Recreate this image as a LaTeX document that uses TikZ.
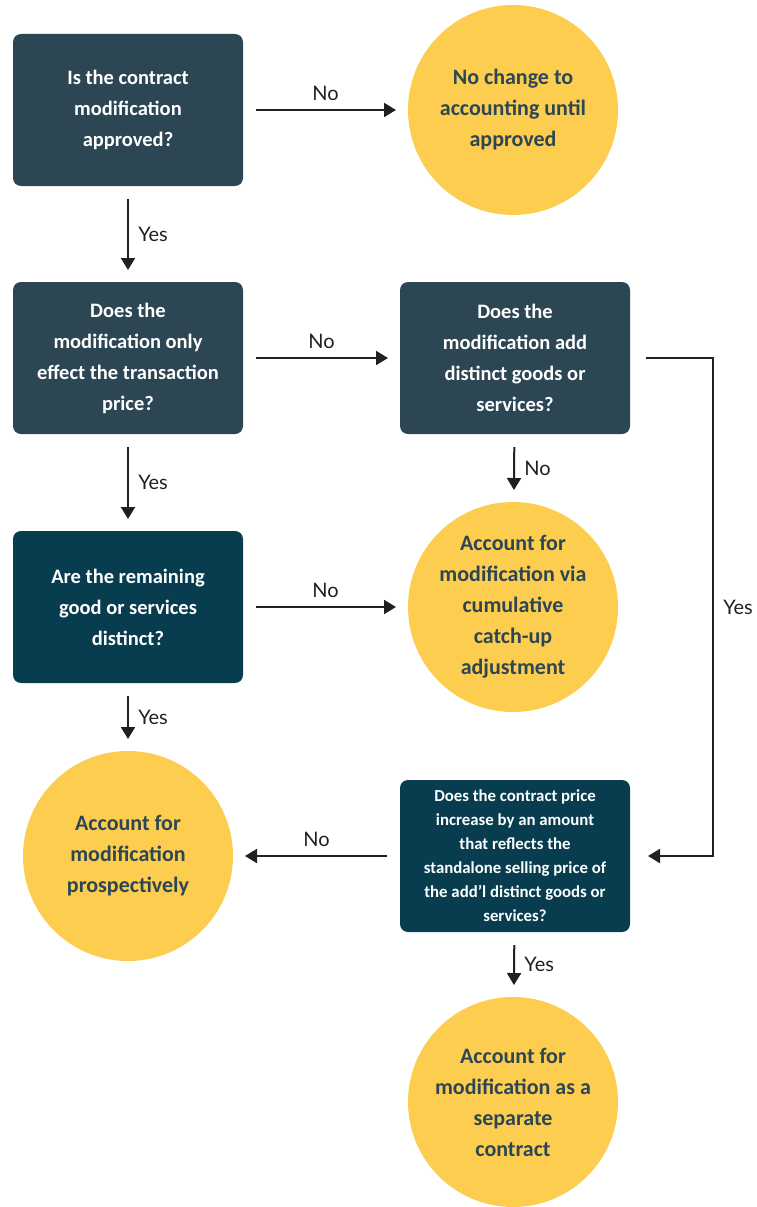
\documentclass[tikz,border=0pt]{standalone}
\usepackage{fontspec}
\setmainfont{Carlito}
\newfontfamily\labelfont{Lato}
\usetikzlibrary{arrows.meta,positioning}
\definecolor{slate}{HTML}{2C4654}
\definecolor{deepteal}{HTML}{083D4F}
\definecolor{sun}{HTML}{FDCD50}
\definecolor{ink}{HTML}{231F20}

\begin{document}
\begin{tikzpicture}[x=1pt,y=-1pt,->,>={Triangle[length=12pt,width=14pt]},draw=ink,line width=2pt,
	shorten >=11pt,shorten <=12pt,
	qbox/.style={rectangle,rounded corners=8pt,fill=slate,text=white,
		minimum width=230pt,minimum height=152pt,align=center,
		font=\bfseries\fontsize{20.5}{31}\selectfont},
	dark/.style={fill=deepteal},
	result/.style={circle,fill=sun,text=slate,minimum size=210pt,inner sep=0pt,
		align=center,font=\bfseries\fontsize{22}{31}\selectfont},
	lbl/.style={text=ink,font=\labelfont\fontsize{20}{22}\selectfont}]
	\useasboundingbox (0,0) rectangle (756,1207);
	
	\node[qbox] (approved) at (128,110) {Is the contract\\modification\\approved?};
	\node[result] (nochange) at (513,110) {No change to\\accounting until\\approved};
	\node[qbox] (priceonly) at (128,358) {Does the\\modification only\\effect the transaction\\price?};
	\node[qbox] (adddistinct) at (515,358) {Does the\\modification add\\distinct goods or\\services?};
	\node[qbox,dark] (remaining) at (128,607) {Are the remaining\\good or services\\distinct?};
	\node[result] (catchup) at (513,607) {Account for\\modification via\\cumulative\\catch-up\\adjustment};
	\node[result] (prospective) at (128,856) {Account for\\modification\\prospectively};
	\node[qbox,dark,font=\bfseries\fontsize{16.8}{24}\selectfont] (standalone) at (515,856)
		{Does the contract price\\increase by an amount\\that reflects the\\standalone selling price of\\the add’l distinct goods or\\services?};
	\node[result] (separate) at (513,1102) {Account for\\modification as a\\separate\\contract};
	
	\path[every node/.style={lbl}]
	(approved) edge node [above=5pt] {No} (nochange)
	(approved) edge node [right=6pt] {Yes} (priceonly)
	(priceonly) edge node [above=5pt] {No} (adddistinct)
	(priceonly) edge node [right=6pt] {Yes} (remaining)
	(adddistinct) edge node [right=6pt] {No} (catchup)
	(remaining) edge node [above=5pt] {No} (catchup)
	(remaining) edge node [right=6pt] {Yes} (prospective)
	(standalone) edge node [above=5pt] {No} (prospective)
	(standalone) edge node [right=6pt] {Yes} (separate);
	
	\draw[shorten <=15pt,shorten >=17pt] (adddistinct.east) -- ++(82,0) coordinate (turn)
	|- node [lbl,pos=0.25,right=6pt] {Yes} (standalone.east);
\end{tikzpicture}
\end{document}
